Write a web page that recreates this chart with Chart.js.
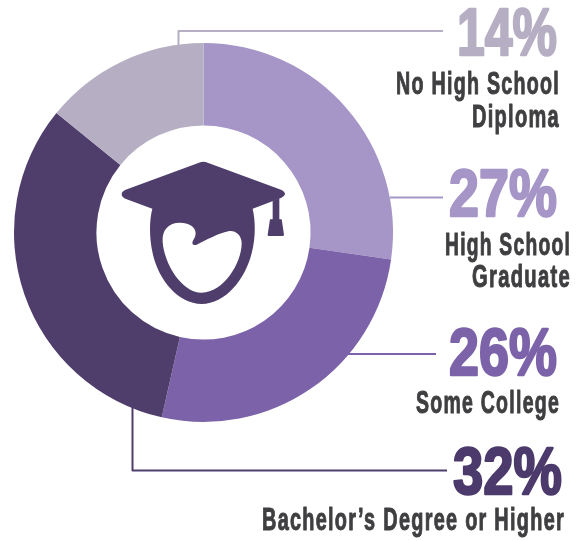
<!DOCTYPE html>
<html>
<head>
<meta charset="utf-8">
<script src="https://cdn.jsdelivr.net/npm/chart.js@4"></script>
<style>
  html, body { margin: 0; padding: 0; background: #fff; }
  canvas { display: block; }
</style>
</head>
<body>
<canvas id="myChart" width="584" height="541"></canvas>
<script>
const categories = ["High School Graduate", "Some College", "Bachelor\u2019s Degree or Higher", "No High School Diploma"];
const shares = [27, 26, 32, 14];
const colors = ["#a695c7", "#7c63a9", "#4f3e6c", "#b6afc4"];

const fontFamily = '"Liberation Sans", Arial, sans-serif';
const textGrey = "#3f3f41";

// one entry per slice, same order as categories. pct = [left, right, baseline]
const callouts = [
  { pct: [449, 557, 216], lines: [["High School", 445, 571, 255], ["Graduate", 472, 571, 287]], leader: [[390, 197.5], [443, 197.5]], pctColor: "#a695c7" },
  { pct: [449, 557, 375], lines: [["Some College", 416, 560, 413]], leader: [[347, 354], [436, 354]], pctColor: "#7c63a9" },
  { pct: [453, 562, 494], lines: [["Bachelor\u2019s Degree or Higher", 262, 565, 530]], leader: [[132.5, 405], [132.5, 470.5], [447, 470.5]], pctColor: "#4b3a6b" },
  { pct: [457, 557, 55], lines: [["No High School", 396, 560, 94], ["Diploma", 472, 560, 127]], leader: [[178.5, 45], [178.5, 31], [443, 31]], pctColor: "#b6afc4" },
];

// squeeze the text horizontally to fit between left and right, stroke makes it heavier
const drawFitted = (ctx, text, left, right, baseline, size, color, weight, spacing) => {
  ctx.font = "bold " + size + "px " + fontFamily;
  ctx.letterSpacing = spacing;
  ctx.fillStyle = color;
  ctx.strokeStyle = color;
  ctx.lineWidth = weight;
  ctx.lineJoin = "round";
  ctx.textAlign = "left";
  ctx.textBaseline = "alphabetic";
  const w = ctx.measureText(text).width;
  ctx.save();
  ctx.translate(left, baseline);
  ctx.scale((right - left) / w, 1);
  ctx.strokeText(text, 0, 0);
  ctx.fillText(text, 0, 0);
  ctx.restore();
  ctx.letterSpacing = "0px";
};

// graduate cap + head, drawn in a 630x540 box that sits at 1/3 scale
const capIcon = new Path2D(
  "M297 68 Q310 62 323 68 L543 149 Q556 155 555 163 Q553 170 543 174 L458 206" +
  "C466 240 468 290 455 340 C435 420 375 492 305 492 C235 492 175 420 158 340" +
  "C147 290 148 240 157 206 L76 176 Q65 171 65 162 Q65 154 77 149 Z" +
  "M240 248 C205 248 186 270 188 305 C192 370 245 458 305 458 C370 458 425 370 425 310" +
  "C425 285 405 270 385 274 C355 280 320 300 290 314 C278 318 274 310 280 300" +
  "C290 285 290 270 275 258 C265 251 252 248 240 248 Z"
);
const tassel = new Path2D(
  "M518 182 L538 175 L538 238 L545 238 L552 284 Q552 288 547 288 L507 288 Q502 288 503 284 L510 238 L518 238 Z"
);

const decorations = {
  id: "decorations",
  afterDraw(chart) {
    const { ctx } = chart;
    const arc = chart.getDatasetMeta(0).data[0];

    // centre icon
    ctx.save();
    ctx.translate(arc.x - 103.5, arc.y - 92.5);
    ctx.scale(1 / 3, 1 / 3);
    ctx.fillStyle = "#4f3e6c";
    ctx.fill(capIcon, "evenodd");
    ctx.fill(tassel);
    ctx.restore();

    callouts.forEach((c, i) => {
      ctx.beginPath();
      c.leader.forEach(([x, y], j) => (j ? ctx.lineTo(x, y) : ctx.moveTo(x, y)));
      ctx.strokeStyle = colors[i];
      ctx.lineWidth = 2;
      ctx.stroke();

      drawFitted(ctx, shares[i] + "%", c.pct[0], c.pct[1], c.pct[2], 66, c.pctColor, 2.4, "0px");
      c.lines.forEach(([text, l, r, b]) => drawFitted(ctx, text, l, r, b, 31, textGrey, 1, "2px"));
    });
  },
};

new Chart(document.getElementById("myChart"), {
  type: "doughnut",
  data: {
    labels: categories,
    datasets: [
      {
        data: shares,
        backgroundColor: colors,
        borderWidth: 0,
      },
    ],
  },
  options: {
    responsive: false,
    animation: false,
    cutout: "56.5%",
    layout: { padding: { left: 14, top: 43, right: 191, bottom: 119 } },
    plugins: {
      legend: { display: false },
      tooltip: { enabled: false },
    },
  },
  plugins: [decorations],
});
</script>
</body>
</html>
